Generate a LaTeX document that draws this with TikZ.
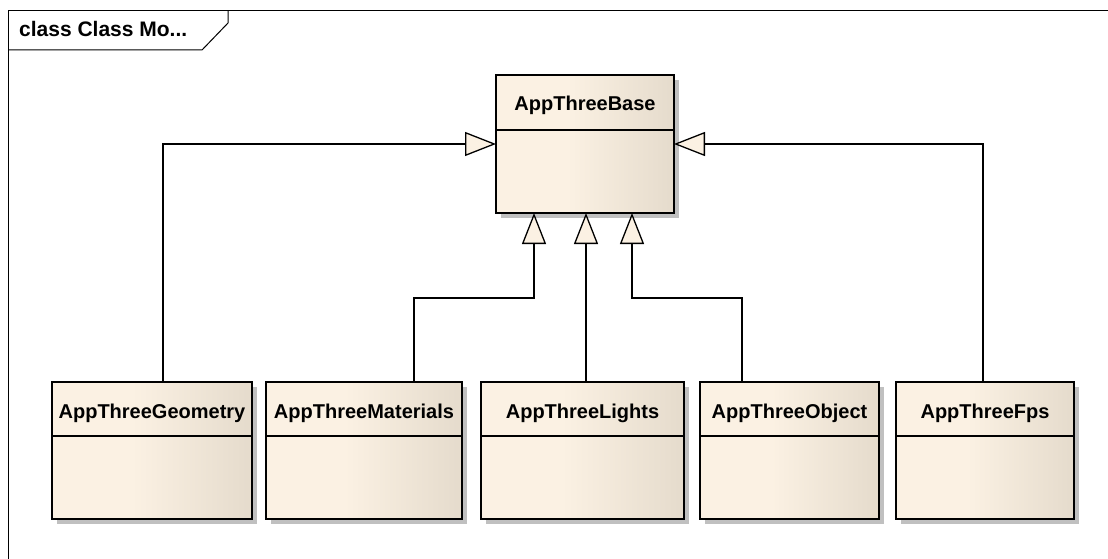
\documentclass[tikz,border=0pt]{standalone}
\usepackage{fontspec}
\setmainfont{Liberation Sans}
\usetikzlibrary{arrows.meta,shadows}

\definecolor{boxlight}{RGB}{251,241,227}
\definecolor{boxdark}{RGB}{229,219,204}
\definecolor{shadowgray}{RGB}{192,192,192}
\pgfdeclarehorizontalshading{classshade}{100bp}{color(0bp)=(boxlight); color(25bp)=(boxlight); color(45bp)=(boxlight); color(75bp)=(boxdark); color(100bp)=(boxdark)}

\tikzset{
    classbox/.style={draw, line width=1.6pt, shading=classshade, anchor=north west,
        inner sep=0pt, outer sep=0pt,
        drop shadow={shadow xshift=5pt, shadow yshift=-5pt, fill=shadowgray, opacity=1}},
    sepline/.style={line width=1.6pt},
    classname/.style={font=\bfseries\fontsize{20}{23}\selectfont, anchor=base, inner sep=0pt},
    gen/.style={line width=1.3pt, -{Triangle[length=31pt, width=24pt, fill=boxlight]}},
    frameline/.style={line width=1pt},
}

\begin{document}
\begin{tikzpicture}[x=1pt, y=-1pt]
        \useasboundingbox (0,0) rectangle (1108,559);

        % diagram frame
        \draw[frameline] (1108,11) -- (8,11) -- (8,559);
        \draw[frameline] (8,50) -- (202,50) -- (228,23) -- (228,11);
        \node[classname, anchor=base west, font=\bfseries\fontsize{21}{24}\selectfont] (tab) at (19,37) {class Class Mo...};

        % base class
        \node[classbox, minimum width=178pt, minimum height=138pt] (base) at (496,75) {};
        \draw[sepline] (base.north west) ++(0,55) -- ++(178,0);
        \node[classname] (basename) at ([yshift=-36pt]base.north) {AppThreeBase};

        % derived classes
        \foreach \name/\x/\w/\label in {geom/52/200/AppThreeGeometry, mat/266/196/AppThreeMaterials,
            lights/481/203/AppThreeLights, obj/700/179/AppThreeObject, fps/896/178/AppThreeFps} {
            \node[classbox, minimum width=\w pt, minimum height=137pt] (\name) at (\x,382) {};
            \draw[sepline] (\name.north west) ++(0,54) -- ++(\w,0);
            \node[classname] (\name name) at ([yshift=-36pt]\name.north) {\label};
        }

        % generalizations
        \draw[gen] ([xshift=111pt]geom.north west) |- (base.west);
        \draw[gen] ([xshift=87pt]fps.north west) |- (base.east);
        \draw[gen] ([xshift=148pt]mat.north west) -- ++(0,-84) -| ([xshift=38pt]base.south west);
        \draw[gen] ([xshift=105pt]lights.north west) -- ([xshift=90pt]base.south west);
        \draw[gen] ([xshift=42pt]obj.north west) -- ++(0,-84) -| ([xshift=136pt]base.south west);
    \end{tikzpicture}
\end{document}
